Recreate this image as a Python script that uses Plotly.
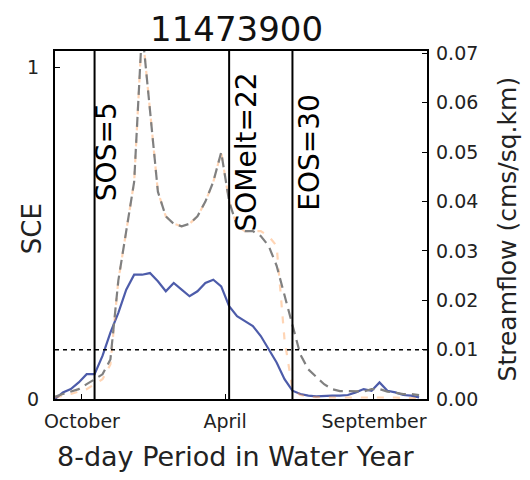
import plotly.graph_objects as go

# ---- data ----
periods = list(range(47))
sce = [0.0, 0.02, 0.03, 0.05, 0.075, 0.075, 0.13, 0.20, 0.26, 0.33,
       0.375, 0.375, 0.38, 0.355, 0.325, 0.35, 0.33, 0.31, 0.325, 0.35,
       0.36, 0.34, 0.28, 0.25, 0.235, 0.22, 0.19, 0.15, 0.11, 0.06,
       0.025, 0.015, 0.01, 0.008, 0.01, 0.01, 0.01, 0.012, 0.02, 0.03,
       0.025, 0.05, 0.025, 0.02, 0.012, 0.01, 0.005]
flow_gray = [0.0005, 0.001, 0.0015, 0.002, 0.003, 0.004, 0.005, 0.008, 0.024, 0.034,
             0.044, 0.075, 0.058, 0.042, 0.037, 0.0355, 0.035, 0.0355, 0.037, 0.040,
             0.044, 0.050, 0.040, 0.035, 0.034, 0.034, 0.033, 0.031, 0.027, 0.021,
             0.0145, 0.009, 0.006, 0.0045, 0.003, 0.002, 0.0016, 0.0016, 0.0015, 0.0015,
             0.002, 0.002, 0.0015, 0.0012, 0.001, 0.001, 0.0008]
flow_orange = [0.0003, 0.0006, 0.001, 0.0015, 0.002, 0.003, 0.004, 0.007, 0.024, 0.034,
               0.044, 0.075, 0.058, 0.042, 0.037, 0.0355, 0.035, 0.0355, 0.037, 0.040,
               0.044, 0.050, 0.040, 0.035, 0.034, 0.034, 0.034, 0.033, 0.031, 0.012,
               0.002, 0.0008, 0.0005, 0.0004, 0.0003, 0.0003, 0.0003, 0.0003, 0.0003, 0.0003,
               0.0004, 0.0004, 0.0003, 0.0003, 0.0002, 0.0002, 0.0002]
threshold = 0.01
events = [5, 22, 30]
event_labels = ["SOS=5", "SOMelt=22", "EOS=30"]
event_label_x = [6.6, 24.2, 32.2]
month_ticks = [3.4, 21.5, 40.3]
month_labels = ["October", "April", "September"]
title = "11473900"

FONT = "DejaVu Sans"

fig = go.Figure()
fig.add_trace(go.Scatter(x=periods, y=flow_orange, yaxis="y2", mode="lines",
                         line=dict(color="rgba(255,150,70,0.4)", width=2.2, dash="7px,9px"),
                         showlegend=False))
fig.add_trace(go.Scatter(x=periods, y=flow_gray, yaxis="y2", mode="lines",
                         line=dict(color="#808080", width=2.2, dash="10px,6px"),
                         showlegend=False))
fig.add_trace(go.Scatter(x=periods, y=sce, mode="lines",
                         line=dict(color="#4d5caa", width=2.2),
                         showlegend=False))
fig.add_trace(go.Scatter(x=[0, 47], y=[threshold, threshold], yaxis="y2", mode="lines",
                         line=dict(color="black", width=1.5, dash="4px,4px"),
                         showlegend=False))

for ev in events:
    fig.add_shape(type="line", xref="x", yref="paper", x0=ev, x1=ev, y0=0, y1=1,
                  line=dict(color="black", width=2))

for lab, lx in zip(event_labels, event_label_x):
    fig.add_annotation(x=lx, xref="x", y=0.71, yref="paper", text=lab, textangle=-90,
                       showarrow=False, xanchor="center", yanchor="middle",
                       font=dict(family=FONT, size=28, color="black"))

fig.add_annotation(x=0.487, y=1.064, xref="paper", yref="paper", text=title, showarrow=False,
                   xanchor="center", yanchor="middle", font=dict(family=FONT, size=34, color="#111"))
fig.add_annotation(x=0.487, y=-0.165, xref="paper", yref="paper", text="8-day Period in Water Year",
                   showarrow=False, xanchor="center", yanchor="middle",
                   font=dict(family=FONT, size=27, color="#222"))
fig.add_annotation(x=-0.06, y=0.49, xref="paper", yref="paper", text="SCE", textangle=-90,
                   showarrow=False, xanchor="center", yanchor="middle",
                   font=dict(family=FONT, size=26, color="#222"))
fig.add_annotation(x=1.215, y=0.49, xref="paper", yref="paper", text="Streamflow (cms/sq.km)",
                   textangle=-90, showarrow=False, xanchor="center", yanchor="middle",
                   font=dict(family=FONT, size=25, color="#222"))

# page body has an 8px margin: figure is 514x464, plot area 372x348 at (55,51) on screen
fig.update_layout(
    width=514, height=464,
    margin=dict(l=47, r=95, t=43, b=73, autoexpand=False),
    paper_bgcolor="white", plot_bgcolor="white",
    font=dict(family=FONT, size=19, color="#222"),
    xaxis=dict(range=[0, 47], tickvals=month_ticks, ticktext=month_labels, automargin=False,
               ticks="inside", ticklen=5, tickcolor="black", showgrid=False, zeroline=False,
               showline=True, linecolor="black", linewidth=2, mirror=True,
               ticklabelstandoff=4, tickfont=dict(size=19)),
    yaxis=dict(range=[0, 1.05], tickvals=[0, 1], ticktext=["0", "1"], automargin=False,
               ticks="inside", ticklen=5, tickcolor="black", showgrid=False, zeroline=False,
               showline=True, linecolor="black", linewidth=2, mirror=True,
               ticklabelstandoff=10, tickfont=dict(size=19)),
    yaxis2=dict(range=[0, 0.0705], overlaying="y", side="right", automargin=False,
                tickvals=[0, 0.01, 0.02, 0.03, 0.04, 0.05, 0.06, 0.07],
                ticktext=["0.00", "0.01", "0.02", "0.03", "0.04", "0.05", "0.06", "0.07"],
                ticks="inside", ticklen=5, tickcolor="black", showgrid=False, zeroline=False,
                showline=False, ticklabelstandoff=8, tickfont=dict(size=19)),
)

fig.write_html("out.html")
